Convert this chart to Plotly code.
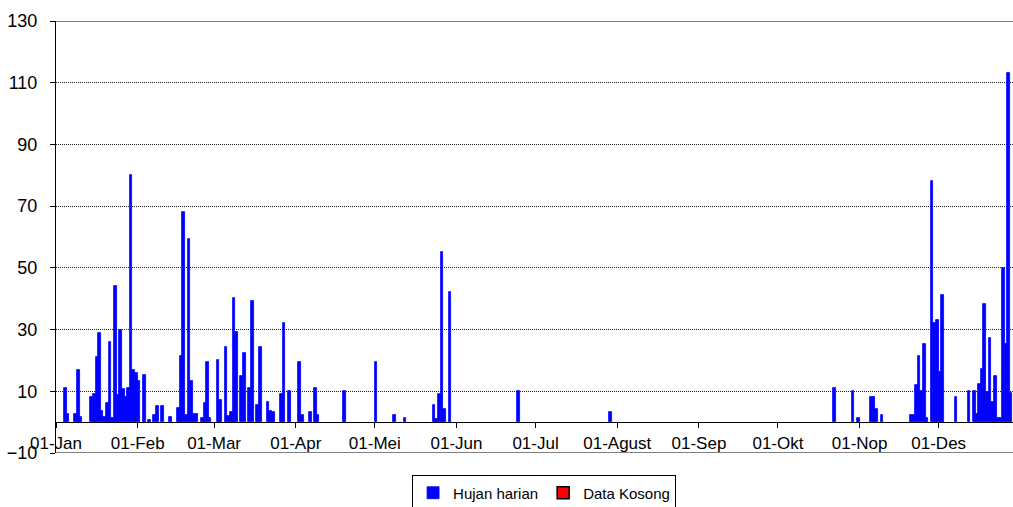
import plotly.graph_objects as go

# Daily rainfall (mm), leap year -> use 2024 calendar
dates = [
    "2024-01-04", "2024-01-05", "2024-01-08", "2024-01-09", "2024-01-10",
    "2024-01-14", "2024-01-15", "2024-01-16", "2024-01-17", "2024-01-18",
    "2024-01-19", "2024-01-20", "2024-01-21", "2024-01-22", "2024-01-23",
    "2024-01-24", "2024-01-25", "2024-01-26", "2024-01-27", "2024-01-28",
    "2024-01-29", "2024-01-30", "2024-01-31", "2024-02-01", "2024-02-03",
    "2024-02-05", "2024-02-07", "2024-02-08", "2024-02-10", "2024-02-13",
    "2024-02-16", "2024-02-17", "2024-02-18", "2024-02-19", "2024-02-20",
    "2024-02-21", "2024-02-22", "2024-02-23", "2024-02-25", "2024-02-26",
    "2024-02-27", "2024-02-28",
    "2024-03-02", "2024-03-03", "2024-03-05", "2024-03-06", "2024-03-07",
    "2024-03-08", "2024-03-09", "2024-03-11", "2024-03-12", "2024-03-14",
    "2024-03-15", "2024-03-17", "2024-03-18", "2024-03-21", "2024-03-22",
    "2024-03-23", "2024-03-26", "2024-03-27", "2024-03-29",
    "2024-04-02", "2024-04-03", "2024-04-06", "2024-04-08", "2024-04-09",
    "2024-04-19",
    "2024-05-01", "2024-05-08", "2024-05-12", "2024-05-23", "2024-05-24",
    "2024-05-25", "2024-05-26", "2024-05-27", "2024-05-29",
    "2024-06-24", "2024-07-29",
    "2024-10-22", "2024-10-29", "2024-10-31",
    "2024-11-05", "2024-11-06", "2024-11-07", "2024-11-09", "2024-11-20",
    "2024-11-21", "2024-11-22", "2024-11-23", "2024-11-24", "2024-11-25",
    "2024-11-26", "2024-11-28", "2024-11-29", "2024-11-30",
    "2024-12-01", "2024-12-02", "2024-12-07", "2024-12-12", "2024-12-14",
    "2024-12-15", "2024-12-16", "2024-12-17", "2024-12-18", "2024-12-19",
    "2024-12-20", "2024-12-21", "2024-12-22", "2024-12-23", "2024-12-24",
    "2024-12-25", "2024-12-26", "2024-12-27", "2024-12-28",
]
hujan_harian = [
    11.0, 2.6, 2.5, 17.0, 1.6,
    8.0, 9.0, 21.0, 29.0, 3.6,
    1.8, 6.3, 26.0, 1.4, 44.0,
    8.7, 30.0, 10.8, 8.3, 11.0,
    80.0, 17.0, 16.0, 13.3, 15.2,
    0.8, 2.2, 5.2, 5.2, 1.6,
    4.7, 21.4, 68.0, 2.4, 59.5,
    13.2, 2.6, 2.6, 1.3, 6.2,
    19.4, 1.3,
    20.3, 7.3, 24.3, 2.1, 3.4,
    40.3, 29.2, 15.0, 22.3, 11.1,
    39.2, 5.6, 24.3, 6.4, 3.7,
    3.4, 9.1, 32.1, 10.2,
    19.4, 2.3, 3.4, 11.1, 2.3,
    10.0,
    19.4, 2.4, 1.4, 5.4, 1.0,
    9.1, 55.3, 4.3, 42.3,
    10.2, 3.4,
    11.1, 10.2, 1.4,
    8.3, 8.3, 4.3, 2.3, 2.3,
    2.3, 12.2, 21.4, 10.2, 25.4,
    1.4, 78.3, 32.2, 33.0,
    16.1, 41.3, 8.3, 10.2, 10.2,
    2.6, 12.4, 17.2, 38.3, 9.7,
    27.3, 6.4, 15.1, 1.4, 1.4,
    50.0, 25.4, 113.2, 9.4,
]

month_ticks = ["2024-01-01", "2024-02-01", "2024-03-01", "2024-04-01",
               "2024-05-01", "2024-06-01", "2024-07-01", "2024-08-01",
               "2024-09-01", "2024-10-01", "2024-11-01", "2024-12-01"]
month_labels = ["01-Jan", "01-Feb", "01-Mar", "01-Apr", "01-Mei", "01-Jun",
                "01-Jul", "01-Agust", "01-Sep", "01-Okt", "01-Nop", "01-Des"]
y_ticks = [-10, 10, 30, 50, 70, 90, 110, 130]

FONT = "Liberation Sans, Arial, sans-serif"

fig = go.Figure()
fig.add_trace(go.Bar(
    x=dates, y=hujan_harian, name="Hujan harian",
    xperiod=86400000, xperiodalignment="middle",
    marker=dict(color="#0000FF", line=dict(color="#0000FF", width=0.8)),
))
fig.add_trace(go.Bar(
    x=[None], y=[None], name="Data Kosong",
    marker=dict(color="#FF0000", line=dict(color="#000000", width=1.5)),
))

fig.update_layout(
    width=1013, height=507,
    margin=dict(l=56, r=0, t=21, b=54, autoexpand=False),
    paper_bgcolor="white", plot_bgcolor="white",
    barmode="overlay", bargap=0,
    font=dict(family=FONT, color="black"),
    showlegend=True,
    legend=dict(
        orientation="h", x=0.51, xanchor="center", y=-0.052, yanchor="top",
        bordercolor="black", borderwidth=1, bgcolor="white",
        font=dict(family=FONT, size=15, color="black"),
        traceorder="normal",
    ),
    xaxis=dict(
        type="date",
        range=["2024-01-01", "2024-12-29 04:48"],
        anchor="free", position=10 / 140,
        tickmode="array", tickvals=month_ticks, ticktext=month_labels,
        ticks="outside", ticklen=5, tickcolor="black", tickwidth=1,
        showline=True, linecolor="black", linewidth=1,
        showgrid=False, zeroline=False,
        tickfont=dict(family=FONT, size=17, color="black"),
    ),
    yaxis=dict(
        range=[-10, 130],
        tickmode="array", tickvals=y_ticks,
        ticks="outside", ticklen=5, tickcolor="black", tickwidth=1,
        showline=True, linecolor="black", linewidth=1,
        showgrid=True, gridcolor="#222222", griddash="1px,1px", gridwidth=1,
        zeroline=False,
        ticklabelstandoff=9,
        tickfont=dict(family=FONT, size=18, color="black"),
    ),
    shapes=[
        dict(type="line", xref="paper", yref="y", x0=0, x1=1, y0=130, y1=130,
             line=dict(color="black", width=1), layer="above"),
        dict(type="line", xref="paper", yref="y", x0=0, x1=1, y0=-10, y1=-10,
             line=dict(color="#808080", width=2), layer="above"),
    ],
)

# Remove the default page margin / scrollbars so the figure fills the window.
page_css = (
    "document.body.style.margin='0';"
    "document.body.style.overflow='hidden';"
    "document.documentElement.style.overflow='hidden';"
)

fig.write_html("out.html", post_script=page_css,
               config={"displayModeBar": False})
